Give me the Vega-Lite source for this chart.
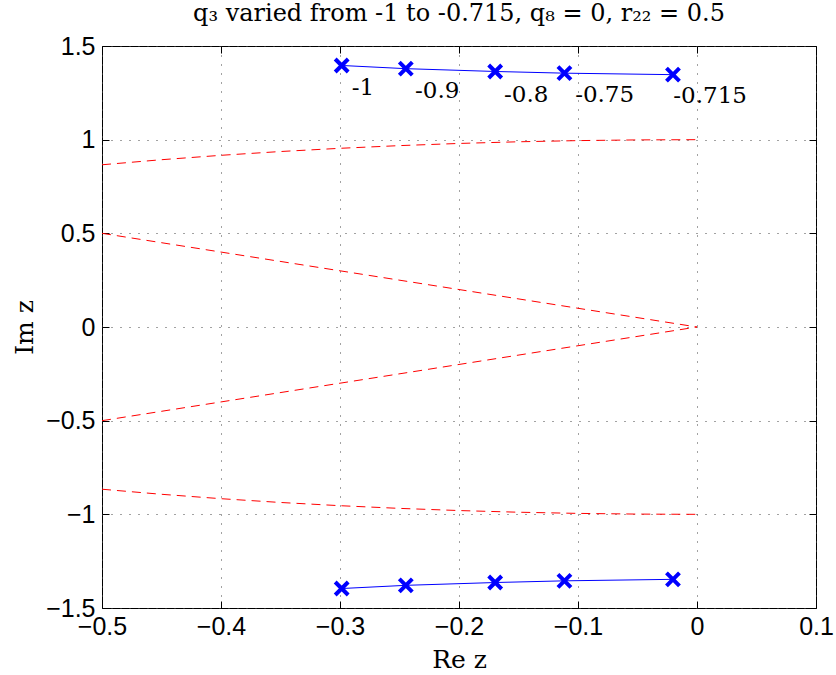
{
  "$schema": "https://vega.github.io/schema/vega-lite/v6.json",
  "width": 714,
  "height": 562,
  "autosize": {"type": "none"},
  "padding": {"left": 102, "top": 46, "right": 20, "bottom": 67},
  "background": "white",
  "title": {
    "text": "q₃ varied from -1 to -0.715, q₈ = 0, r₂₂ = 0.5",
    "font": "DejaVu Serif",
    "fontSize": 24,
    "fontWeight": "normal",
    "color": "black",
    "anchor": "middle",
    "offset": 8
  },
  "config": {
    "view": {"stroke": "black", "strokeWidth": 1},
    "axis": {
      "domain": false,
      "grid": true,
      "gridColor": "#444",
      "gridDash": [1, 8],
      "gridWidth": 1,
      "tickColor": "black",
      "tickSize": -7,
      "labelFlush": false,
      "labelOverlap": false,
      "labelFont": "Liberation Sans",
      "labelFontSize": 25,
      "labelColor": "black",
      "titleFont": "DejaVu Serif",
      "titleFontSize": 25,
      "titleFontWeight": "normal",
      "titleColor": "black",
      "format": "~g"
    }
  },
  "datasets": {
    "curves": [
      {"series": "upper arc", "re": -0.5, "im": 0.866},
      {"series": "upper arc", "re": -0.45, "im": 0.893},
      {"series": "upper arc", "re": -0.4, "im": 0.9165},
      {"series": "upper arc", "re": -0.35, "im": 0.9367},
      {"series": "upper arc", "re": -0.3, "im": 0.9539},
      {"series": "upper arc", "re": -0.25, "im": 0.9682},
      {"series": "upper arc", "re": -0.2, "im": 0.9798},
      {"series": "upper arc", "re": -0.15, "im": 0.9887},
      {"series": "upper arc", "re": -0.1, "im": 0.995},
      {"series": "upper arc", "re": -0.05, "im": 0.9987},
      {"series": "upper arc", "re": 0, "im": 1.0},
      {"series": "lower arc", "re": -0.5, "im": -0.866},
      {"series": "lower arc", "re": -0.45, "im": -0.893},
      {"series": "lower arc", "re": -0.4, "im": -0.9165},
      {"series": "lower arc", "re": -0.35, "im": -0.9367},
      {"series": "lower arc", "re": -0.3, "im": -0.9539},
      {"series": "lower arc", "re": -0.25, "im": -0.9682},
      {"series": "lower arc", "re": -0.2, "im": -0.9798},
      {"series": "lower arc", "re": -0.15, "im": -0.9887},
      {"series": "lower arc", "re": -0.1, "im": -0.995},
      {"series": "lower arc", "re": -0.05, "im": -0.9987},
      {"series": "lower arc", "re": 0, "im": -1.0},
      {"series": "upper ray", "re": -0.5, "im": 0.5},
      {"series": "upper ray", "re": 0, "im": 0},
      {"series": "lower ray", "re": -0.5, "im": -0.5},
      {"series": "lower ray", "re": 0, "im": 0}
    ],
    "poles": [
      {"branch": "upper", "q3": -1, "re": -0.2986, "im": 1.396},
      {"branch": "upper", "q3": -0.9, "re": -0.2447, "im": 1.379},
      {"branch": "upper", "q3": -0.8, "re": -0.1696, "im": 1.364},
      {"branch": "upper", "q3": -0.75, "re": -0.1114, "im": 1.355},
      {"branch": "upper", "q3": -0.715, "re": -0.0202, "im": 1.347},
      {"branch": "lower", "q3": -1, "re": -0.2986, "im": -1.396},
      {"branch": "lower", "q3": -0.9, "re": -0.2447, "im": -1.379},
      {"branch": "lower", "q3": -0.8, "re": -0.1696, "im": -1.364},
      {"branch": "lower", "q3": -0.75, "re": -0.1114, "im": -1.355},
      {"branch": "lower", "q3": -0.715, "re": -0.0202, "im": -1.347}
    ],
    "labels": [
      {"text": "-1", "re": -0.2902, "im": 1.2385},
      {"text": "-0.9", "re": -0.2369, "im": 1.2208},
      {"text": "-0.8", "re": -0.1621, "im": 1.2027},
      {"text": "-0.75", "re": -0.1024, "im": 1.2027},
      {"text": "-0.715", "re": -0.0199, "im": 1.1942}
    ]
  },
  "resolve": {"axis": {"x": "independent", "y": "independent"}},
  "layer": [
    {
      "data": {"name": "curves"},
      "mark": {"type": "line", "color": "red", "strokeWidth": 1, "strokeDash": [9, 6]},
      "encoding": {
        "x": {"field": "re", "type": "quantitative", "scale": {"domain": [-0.5, 0.1], "nice": false, "zero": false},
              "axis": {"title": "Re z", "values": [-0.5, -0.4, -0.3, -0.2, -0.1, 0, 0.1], "labelPadding": 13, "titlePadding": 8,
                       "labelExpr": "datum.value < 0 ? datum.label + ' ' : datum.label"}},
        "y": {"field": "im", "type": "quantitative", "scale": {"domain": [-1.5, 1.5], "nice": false, "zero": false},
              "axis": {"title": "Im z", "values": [-1.5, -1, -0.5, 0, 0.5, 1, 1.5], "labelPadding": 14, "titlePadding": 8}},
        "detail": {"field": "series"}
      }
    },
    {
      "data": {"name": "curves"},
      "mark": {"type": "line", "opacity": 0},
      "encoding": {
        "x": {"field": "re", "type": "quantitative", "axis": {"orient": "top", "labels": false, "grid": false, "title": null, "values": [-0.5, -0.4, -0.3, -0.2, -0.1, 0, 0.1]}},
        "y": {"field": "im", "type": "quantitative", "axis": {"orient": "right", "labels": false, "grid": false, "title": null, "values": [-1.5, -1, -0.5, 0, 0.5, 1, 1.5]}},
        "detail": {"field": "series"}
      }
    },
    {
      "data": {"name": "poles"},
      "mark": {"type": "line", "color": "blue", "strokeWidth": 1},
      "encoding": {
        "x": {"field": "re", "type": "quantitative", "axis": null},
        "y": {"field": "im", "type": "quantitative", "axis": null},
        "detail": {"field": "branch"},
        "order": {"field": "q3"}
      }
    },
    {
      "data": {"name": "poles"},
      "mark": {"type": "point", "shape": "M-1,-1L1,1M-1,1L1,-1", "filled": false, "color": "blue", "strokeWidth": 4, "size": 169, "opacity": 1},
      "encoding": {
        "x": {"field": "re", "type": "quantitative", "axis": null},
        "y": {"field": "im", "type": "quantitative", "axis": null}
      }
    },
    {
      "data": {"name": "labels"},
      "mark": {"type": "text", "font": "DejaVu Serif", "fontSize": 23, "align": "left", "baseline": "alphabetic", "color": "black"},
      "encoding": {
        "x": {"field": "re", "type": "quantitative", "axis": null},
        "y": {"field": "im", "type": "quantitative", "axis": null},
        "text": {"field": "text"}
      }
    }
  ]
}
